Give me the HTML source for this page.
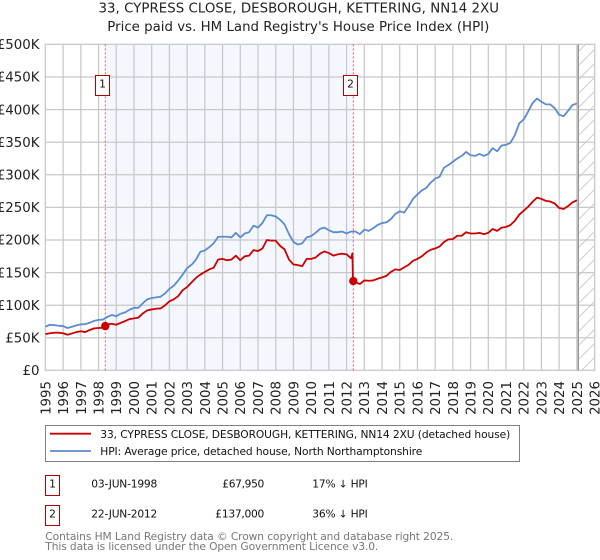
<!DOCTYPE html>
<html lang="en">
<head>
<meta charset="utf-8">
<title>33, Cypress Close price paid vs. HPI</title>
<style>
html,body{margin:0;padding:0;background:#fff;width:600px;height:560px;overflow:hidden}
svg{display:block;font-family:"DejaVu Sans","Liberation Sans",sans-serif}
</style>
</head>
<body>
<svg id="chart" xmlns="http://www.w3.org/2000/svg" width="600" height="560" viewBox="0 0 600 560">
  <defs>
    <pattern id="hatch" width="14" height="14" patternUnits="userSpaceOnUse">
      <path d="M-1,15 L15,-1" stroke="#cccccc" stroke-width="1" fill="none"/>
    </pattern>
  </defs>
  <text x="98.5" y="12.7" font-size="13.33" textLength="400.5" fill="#222">33, CYPRESS CLOSE, DESBOROUGH, KETTERING, NN14 2XU</text>
  <text x="107.3" y="31" font-size="13.33" textLength="382" fill="#222">Price paid vs. HM Land Registry's House Price Index (HPI)</text>
  <g id="plot"></g>

  <g>
    <rect x="45.5" y="425.5" width="474" height="36" fill="#fff" stroke="#808080" stroke-width="1"/>
    <line x1="50" x2="91" y1="433.7" y2="433.7" stroke="#cc0000" stroke-width="1.8"/>
    <text x="100.3" y="438.2" font-size="10.67" textLength="410" fill="#111">33, CYPRESS CLOSE, DESBOROUGH, KETTERING, NN14 2XU (detached house)</text>
    <line x1="50" x2="91" y1="451" y2="451" stroke="#5b8cd0" stroke-width="1.8"/>
    <text x="100.3" y="455" font-size="10.67" textLength="322" fill="#111">HPI: Average price, detached house, North Northamptonshire</text>
  </g>

  <g font-size="10.67" fill="#111">
    <rect x="45.5" y="475.5" width="14" height="20" fill="#fff" stroke="#b20000"/>
    <text x="52.5" y="487.3" text-anchor="middle">1</text>
    <text x="91.3" y="487.3" textLength="66">03-JUN-1998</text>
    <text x="222.3" y="487.3" textLength="42">£67,950</text>
    <text x="312.3" y="487.3" textLength="55.5">17% ↓ HPI</text>
    <rect x="45.5" y="505.5" width="14" height="20" fill="#fff" stroke="#b20000"/>
    <text x="52.5" y="517.3" text-anchor="middle">2</text>
    <text x="91.3" y="517.3" textLength="66">22-JUN-2012</text>
    <text x="215.3" y="517.3" textLength="49">£137,000</text>
    <text x="312.3" y="517.3" textLength="55.5">36% ↓ HPI</text>
  </g>

  <text x="45.3" y="540.2" font-size="10.67" textLength="408" fill="#777">Contains HM Land Registry data © Crown copyright and database right 2025.</text>
  <text x="45.3" y="550.2" font-size="10.67" textLength="333" fill="#777">This data is licensed under the Open Government Licence v3.0.</text>
</svg>
<script>
const yearTicks = [1995,1996,1997,1998,1999,2000,2001,2002,2003,2004,2005,2006,2007,2008,2009,2010,2011,2012,2013,2014,2015,2016,2017,2018,2019,2020,2021,2022,2023,2024,2025,2026];
const valueTicks = [0,50,100,150,200,250,300,350,400,450,500];
const valueTickLabels = ['£0','£50K','£100K','£150K','£200K','£250K','£300K','£350K','£400K','£450K','£500K'];

const hpiStartYear = 1995;
const hpiStepYears = 0.25;
const hpiValues = [
  67,70,69.5,68.5, 68,65,67,69, 70.5,71,73,76, 77.5,78,82,85,
  83,87,89,93, 96,96,103,109, 111,112,113,118, 125,130,138,147,
  157,162,170,182, 184,189,195,205, 205,205,204,211, 204,210,212,222,
  219,226,238,238, 236,231,224,209, 197,193,195,204, 206,211,217,219,
  215,212,212,213, 210,213,213,209, 216,214,218,223, 226,227,232,240,
  244,242,252,263, 270,276,280,288, 294,297,311,315, 320,325,329,335,
  330,329,332,329, 332,341,336,345, 346,349,361,379, 385,397,410,417,
  412,408,408,402, 392,390,398,407, 409.5
];

const priceDates = [
  1995,1995.25,1995.5,1995.75, 1996,1996.25,1996.5,1996.75, 1997,1997.25,1997.5,1997.75,
  1998,1998.25,1998.38,1998.5,1998.75, 1999,1999.25,1999.5,1999.75, 2000,2000.25,2000.5,2000.75,
  2001,2001.25,2001.5,2001.75, 2002,2002.25,2002.5,2002.75, 2003,2003.25,2003.5,2003.75,
  2004,2004.25,2004.5,2004.75, 2005,2005.25,2005.5,2005.75, 2006,2006.25,2006.5,2006.75,
  2007,2007.25,2007.5,2007.75, 2008,2008.25,2008.5,2008.75, 2009,2009.25,2009.5,2009.75,
  2010,2010.25,2010.5,2010.75, 2011,2011.25,2011.5,2011.75, 2012,2012.25,2012.33,2012.36,2012.75,
  2013,2013.25,2013.5,2013.75, 2014,2014.25,2014.5,2014.75, 2015,2015.25,2015.5,2015.75,
  2016,2016.25,2016.5,2016.75, 2017,2017.25,2017.5,2017.75, 2018,2018.25,2018.5,2018.75,
  2019,2019.25,2019.5,2019.75, 2020,2020.25,2020.5,2020.75, 2021,2021.25,2021.5,2021.75,
  2022,2022.25,2022.5,2022.75, 2023,2023.25,2023.5,2023.75, 2024,2024.25,2024.5,2024.75, 2025
];
const priceValues = [
  55.7,57,57.8,57.8, 57,54.7,56.7,58.8, 60,58.8,62,64.4,
  65,65.5,67.95,70.5,71.5, 70,73,75.6,78.7, 79.8,81,87.4,92,
  93.5,94.6,95,99.7, 106,109,114,123, 128,135,142,147,
  151,155,157.5,170, 171,169,170,176, 169,175,176,184.5,
  183,187,200,199, 199,191,185.6,170, 162.5,161.5,160,171,
  171,173,179,182.5, 180,176,178,179, 178,172,179.5,137,132.4,
  138,137.5,138,140.6, 142.6,145,151,155, 154,158,162,168,
  171,175,181,185, 187,190,197,201, 201.4,206.5,206.5,212,
  210,210,211,209, 211,217,214,219, 220,223,229.5,239,
  245,251,258.7,265, 263,260,259,256, 249,247.5,252,257.7, 261
];

const saleDates = [1998.38, 2012.38];
const salePrices = [67.95, 137];
const saleLabels = ['1','2'];
const saleWindow = [1998.38, 2012.38];
const forecastStart = 2025.08;

const SVGNS = 'http://www.w3.org/2000/svg';
const plot = document.getElementById('plot');
const left = 45.4, right = 594.6, top_ = 44.4, bottom = 370.4;
const xMin = 1995, xMax = 2026, yMin = 0, yMax = 500;
function xScale(year){ return left + (year - xMin) / (xMax - xMin) * (right - left); }
function yScale(value){ return bottom - (value - yMin) / (yMax - yMin) * (bottom - top_); }
function make(tag, attrs, parent){
  const el = document.createElementNS(SVGNS, tag);
  for (const k in attrs) el.setAttribute(k, attrs[k]);
  (parent || plot).appendChild(el);
  return el;
}
function linePath(dates, values){
  return values.map((v, i) => (i ? 'L' : 'M') + xScale(dates[i]).toFixed(2) + ',' + yScale(v).toFixed(2)).join(' ');
}

const shade = make('rect', {x: xScale(saleWindow[0]), y: top_, width: xScale(saleWindow[1]) - xScale(saleWindow[0]), height: bottom - top_, fill: '#f5f7ff'});



const hatch = make('rect', {x: xScale(forecastStart), y: top_, width: right - xScale(forecastStart), height: bottom - top_, fill: 'url(#hatch)'});



yearTicks.forEach(function(year){
  const grid = make('line', {x1: xScale(year), x2: xScale(year), y1: top_, y2: bottom, stroke: '#c8c8c8', 'stroke-width': 1.25});
  
  
  const label = make('text', {transform: 'translate(' + xScale(year) + ',381) rotate(-90)', 'text-anchor': 'end', dy: '0.37em', 'font-size': 13.33, fill: '#222'});
  
  
  label.textContent = String(year);
});
valueTicks.forEach(function(value, i){
  const grid = make('line', {x1: left, x2: right, y1: yScale(value), y2: yScale(value), stroke: '#c8c8c8', 'stroke-width': 1.25});
  
  
  const label = make('text', {x: 39.5, y: yScale(value) + 4.7, 'text-anchor': 'end', 'font-size': 13.33, fill: '#222'});
  
  
  label.textContent = valueTickLabels[i];
});

const frame = make('rect', {x: left, y: top_, width: right - left, height: bottom - top_, fill: 'none', stroke: '#cccccc', 'stroke-width': 1.25});



const forecastLine = make('line', {x1: xScale(forecastStart), x2: xScale(forecastStart), y1: top_, y2: bottom, stroke: '#999999', 'stroke-width': 1.4});



saleDates.forEach(function(date){
  const v = make('line', {x1: xScale(date), x2: xScale(date), y1: top_, y2: bottom, stroke: '#e0606c', 'stroke-width': 1, 'stroke-dasharray': '2 2'});
  
  
});

const hpiDates = hpiValues.map((_, i) => hpiStartYear + i * hpiStepYears);
const hpiLine = make('path', {d: linePath(hpiDates, hpiValues), fill: 'none', stroke: '#5b8cd0', 'stroke-width': 1.8, 'stroke-linejoin': 'round'});



const priceLine = make('path', {d: linePath(priceDates, priceValues), fill: 'none', stroke: '#cc0000', 'stroke-width': 1.8, 'stroke-linejoin': 'round'});



saleDates.forEach(function(date, i){
  const dot = make('circle', {cx: xScale(date), cy: yScale(salePrices[i]), r: 4.2, fill: '#cc0000'});
  
  
  const boxLeft = Math.round(xScale(date)) - 9.5;
  const box = make('rect', {x: boxLeft, y: 75.5, width: 14, height: 20, fill: '#fff', stroke: '#b20000', 'stroke-width': 1});
  
  
  const label = make('text', {x: boxLeft + 7, y: 87.3, 'text-anchor': 'middle', 'font-size': 10.67, fill: '#111'});
  
  
  label.textContent = saleLabels[i];
});
</script>
</body>
</html>
